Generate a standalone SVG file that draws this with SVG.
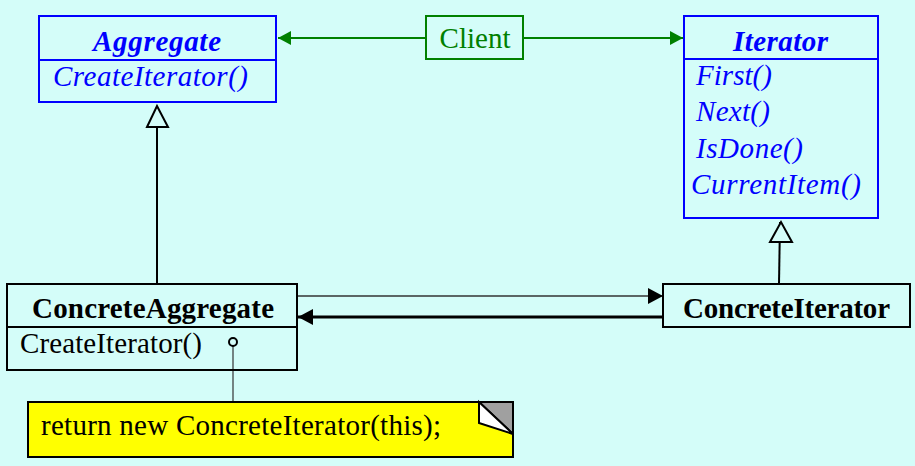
<svg xmlns="http://www.w3.org/2000/svg" width="915" height="466" viewBox="0 0 915 466">
<style>
text{font-family:"Liberation Serif","Times New Roman",serif;font-size:29px}
.blue{fill:none;stroke:#0000ff;stroke-width:2}
.blk{fill:none;stroke:#000;stroke-width:2}
.bt{fill:#0000ff;font-style:italic}
.bb{font-weight:bold}
.ctr{text-anchor:middle}
</style>
<defs>
<marker id="gfill" markerWidth="14" markerHeight="14" refX="13" refY="7" orient="auto" markerUnits="userSpaceOnUse"><path d="M0,0 L13,7 L0,14 Z" fill="#008000"/></marker>
<marker id="bfill" markerWidth="16" markerHeight="16" refX="15" refY="8" orient="auto" markerUnits="userSpaceOnUse"><path d="M0,0 L15,8 L0,16 Z" fill="#000"/></marker>
</defs>
<rect width="915" height="466" fill="#d4fdf9"/>

<g id="connectors">
<line x1="426" y1="38" x2="278" y2="38" stroke="#008000" stroke-width="2" marker-end="url(#gfill)"/>
<line x1="523" y1="38" x2="683" y2="38" stroke="#008000" stroke-width="2" marker-end="url(#gfill)"/>
<line x1="157" y1="284" x2="157" y2="106" stroke="#000" stroke-width="2"/>
<path d="M147,127 L157,106 L168,127 Z" fill="#d4fdf9" stroke="#000" stroke-width="2"/>
<line x1="779" y1="284" x2="780" y2="222" stroke="#000" stroke-width="2"/>
<path d="M770,242 L781,222 L792,242 Z" fill="#d4fdf9" stroke="#000" stroke-width="2"/>
<line x1="298" y1="296" x2="663" y2="296" stroke="#333" stroke-width="1.3" marker-end="url(#bfill)"/>
<line x1="663" y1="317" x2="298" y2="317" stroke="#000" stroke-width="3" marker-end="url(#bfill)"/>
<line x1="233" y1="346" x2="233" y2="402" stroke="#333" stroke-width="1.2"/>
<circle cx="233" cy="342" r="4" fill="#d4fdf9" stroke="#000" stroke-width="2"/>
</g>

<g id="aggregate">
<rect x="39" y="16" width="237" height="86" class="blue"/>
<line x1="39" y1="60" x2="276" y2="60" class="blue"/>
<text x="93" y="51" class="bt bb" textLength="128">Aggregate</text>
<text x="53" y="86" class="bt" textLength="195">CreateIterator()</text>
</g>

<g id="client">
<rect x="426" y="16" width="97" height="43" fill="none" stroke="#008000" stroke-width="2"/>
<text x="475" y="48" class="ctr" fill="#008000">Client</text>
</g>

<g id="iterator">
<rect x="684" y="16" width="194" height="202" class="blue"/>
<line x1="684" y1="59" x2="878" y2="59" class="blue"/>
<text x="733" y="51" class="bt bb" textLength="95">Iterator</text>
<text x="696" y="85" class="bt" textLength="76">First()</text>
<text x="696" y="121" class="bt" textLength="74">Next()</text>
<text x="696" y="158" class="bt" textLength="107">IsDone()</text>
<text x="691" y="194" class="bt" textLength="170">CurrentItem()</text>
</g>

<g id="concreteAggregate">
<rect x="7" y="284" width="290" height="86" class="blk"/>
<line x1="7" y1="327" x2="297" y2="327" class="blk"/>
<text x="32" y="318" class="bb" textLength="242">ConcreteAggregate</text>
<text x="20" y="353" textLength="182">CreateIterator()</text>
</g>

<g id="concreteIterator">
<rect x="663" y="284" width="247" height="43" class="blk"/>
<text x="683" y="318" class="bb" textLength="207">ConcreteIterator</text>
</g>

<g id="note">
<rect x="28" y="402" width="485" height="55" fill="#ffff00" stroke="#000" stroke-width="2"/>
<path d="M479,402 L513,402 L513,434 Z" fill="#a0a0a0" stroke="#000" stroke-width="2"/>
<path d="M479,402 L479,423 L513,434 Z" fill="#fff" stroke="#000" stroke-width="2"/>
<text x="41" y="435" textLength="400">return new ConcreteIterator(this);</text>
</g>
</svg>
